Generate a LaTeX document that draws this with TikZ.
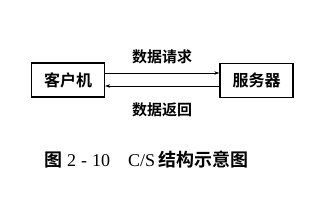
\documentclass[tikz,border=0pt]{standalone}
\usepackage{fontspec}
\setmainfont{Liberation Serif}
\newfontfamily\cjk{Noto Sans CJK SC}[BoldFont={Noto Sans CJK SC Bold}]
\usetikzlibrary{arrows.meta,positioning}
\tikzset{
  box/.style={draw,line width=1.4pt,minimum width=73pt,minimum height=34pt,inner sep=0pt,font=\cjk\bfseries\fontsize{16}{16}\selectfont},
  lbl/.style={inner sep=0pt,font=\cjk\bfseries\fontsize{15}{15}\selectfont},
  msg/.style={-{Stealth[length=5pt,width=3.5pt]},line width=0.6pt}
}

\begin{document}
\begin{tikzpicture}[x=1pt,y=-1pt]
  \useasboundingbox (0,0) rectangle (324,202);
  \node[box] (client) at (68,80){客户机};
  \node[box] (server) at (256.5,80.5){服务器};
  \coordinate (c1) at (client.east |- 0,73); \coordinate (s1) at (server.west |- 0,73);
  \coordinate (c2) at (client.east |- 0,86); \coordinate (s2) at (server.west |- 0,86);
  \draw[msg] (c1) -- (s1);
  \draw[msg] (s2) -- (c2);
  \node[lbl] (req) at (162,57){数据请求};
  \node[lbl] (resp) at (162,110){数据返回};
  \node[inner sep=0pt,anchor=west,font=\fontsize{18}{18}\selectfont] (cap) at (44,160)
    {{\cjk\bfseries 图}\hspace{5pt}2\hspace{5pt}-\hspace{5pt}10\hspace{18pt}C/S\hspace{3pt}{\cjk\bfseries 结构示意图}};
\end{tikzpicture}
\end{document}
